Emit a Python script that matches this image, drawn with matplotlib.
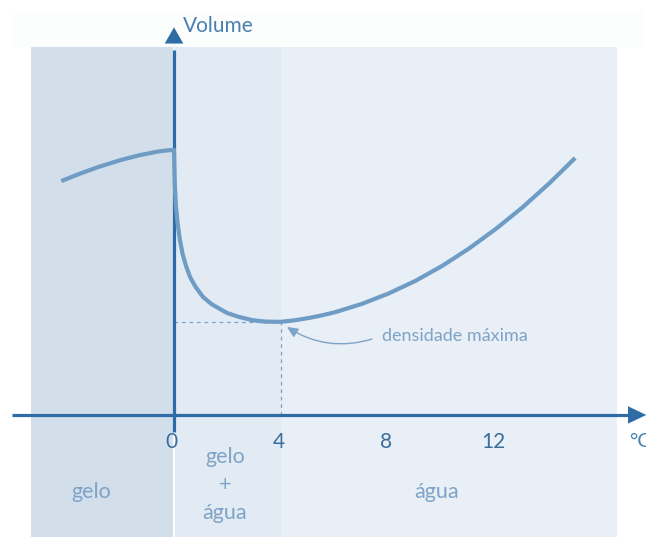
import matplotlib
matplotlib.use("Agg")
import matplotlib.pyplot as plt
from matplotlib.patches import Rectangle

plt.rcParams['font.family'] = ['Lato', 'DejaVu Sans']

# curve (temperature in °C, volume in arbitrary units)
temp = [-4.2, -3.5, -2.8, -2.0, -1.3, -0.6, -0.2, 0.0,
        0.01, 0.03, 0.07, 0.14, 0.22, 0.32, 0.45, 0.6, 0.8, 1.08, 1.4, 1.98, 2.4, 2.94, 3.4, 3.95,
        4.5, 5.0, 5.5, 6.0, 7.0, 8.0, 9.0, 10.0, 11.0, 12.0, 13.0, 14.0, 14.95]
volume = [8.72, 9.0, 9.25, 9.5, 9.68, 9.82, 9.87, 9.88,
          9.4, 8.6, 7.8, 7.1, 6.52, 6.0, 5.55, 5.14, 4.78, 4.40, 4.13, 3.80, 3.66, 3.53, 3.48, 3.47,
          3.53, 3.61, 3.71, 3.83, 4.14, 4.53, 5.0, 5.56, 6.21, 6.94, 7.75, 8.65, 9.58]

ticks = [0, 4, 8, 12]
regions = [(-5.33, -0.04, '#d2dfea'), (0.04, 4.0, '#e2ebf4'), (4.0, 16.5, '#e8eff7')]
region_labels = [(-3.1, 'gelo'), (1.9, 'gelo\n+\nágua'), (9.8, 'água')]
t_max, v_max = 4.0, 3.47

axis_col = '#2f6ca5'
curve_col = '#6f9cc4'
text_col = '#7fa3c6'

fig = plt.figure(figsize=(6.46, 5.37), dpi=100)
ax = fig.add_axes([0, 0, 1, 1])
ax.set_xlim(-6.485, 17.59)
ax.set_ylim(-4.55, 15.47)
ax.axis('off')

# backgrounds
ax.add_patch(Rectangle((-6.1, 13.72), 23.6, 1.38, color='#fcfdfd', lw=0, zorder=0))
for x0, x1, c in regions:
    ax.add_patch(Rectangle((x0, -4.6), x1 - x0, 13.72 + 4.6, color=c, lw=0, zorder=0))

# axes with arrows
ax.plot([-6.05, 16.95], [0, 0], color=axis_col, lw=2.3, zorder=3, solid_capstyle='butt')
ax.annotate('', xy=(17.6, 0), xytext=(16.9, 0),
            arrowprops=dict(arrowstyle='-|>,head_length=1.3,head_width=0.62',
                            color=axis_col, lw=0.1, shrinkA=0, shrinkB=0), zorder=3)
ax.plot([0, 0], [-0.65, 13.6], color=axis_col, lw=2.3, zorder=3, solid_capstyle='butt')
ax.annotate('', xy=(0, 14.45), xytext=(0, 13.45),
            arrowprops=dict(arrowstyle='-|>,head_length=1.15,head_width=0.66',
                            color=axis_col, lw=0.1, shrinkA=0, shrinkB=0), zorder=3)
ax.text(0.32, 14.5, 'Volume', color='#4a7fb2', fontsize=15, ha='left', va='center')
ax.text(16.95, -1.0, '°C', color='#4a7fb2', fontsize=14.5, ha='left', va='center')

for t in ticks:
    ax.text(t - 0.1, -1.0, str(t), color='#3b6d9c', fontsize=15, ha='center', va='center')

# dashed guides to the minimum
ax.plot([0, t_max], [v_max, v_max], color='#7fa3c6', lw=0.9, ls=(0, (3, 3)), zorder=2)
ax.plot([t_max, t_max], [0, v_max], color='#7fa3c6', lw=0.9, ls=(0, (3, 3)), zorder=2)

# curve
ax.plot(temp, volume, color=curve_col, lw=3.0, solid_capstyle='butt',
        solid_joinstyle='round', zorder=4)

# annotation
ax.text(7.75, 2.95, 'densidade máxima', color=text_col, fontsize=13, ha='left', va='center')
ax.annotate('', xy=(4.21, 3.28), xytext=(7.38, 2.83),
            arrowprops=dict(arrowstyle='-|>,head_length=0.65,head_width=0.3',
                            color='#7fa3c6', lw=1.0, shrinkA=0, shrinkB=0,
                            connectionstyle='arc3,rad=-0.23'), zorder=5)

for x, lab in region_labels:
    if '\n' in lab:
        ax.text(x, -2.6, lab, color=text_col, fontsize=15.5, ha='center', va='center',
                linespacing=1.5)
    else:
        ax.text(x, -2.87, lab, color=text_col, fontsize=15.5, ha='center', va='center')

fig.savefig('out.png', dpi=100)
